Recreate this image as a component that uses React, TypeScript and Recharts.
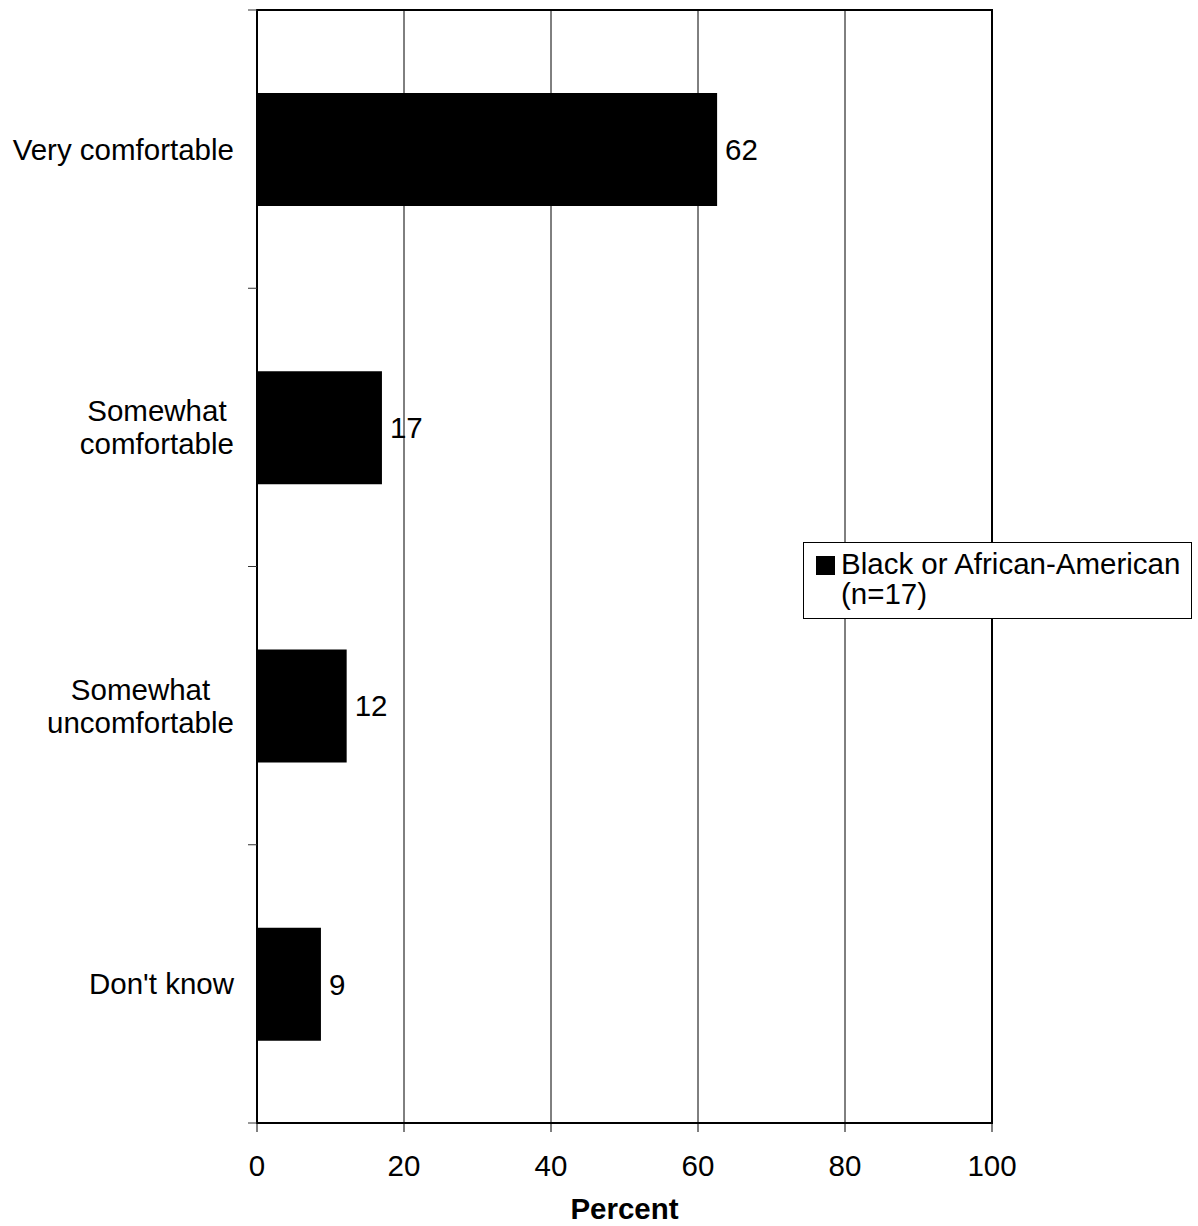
import { BarChart, Bar, XAxis, YAxis, CartesianGrid, Legend, LabelList, ReferenceArea } from 'recharts'

const categories = ['Very comfortable', 'Somewhat\ncomfortable', 'Somewhat\nuncomfortable', "Don't know"]
const percents = [62.6, 17.0, 12.2, 8.7]
const valueLabels = ['62', '17', '12', '9']
const xTicks = [0, 20, 40, 60, 80, 100]
const seriesName = 'Black or African-American'
const seriesNote = '(n=17)'

const FONT = '"Liberation Sans", Arial, sans-serif'
const FONT_SIZE = 29.5

const data = categories.map((name, i) => ({ name, value: percents[i], label: valueLabels[i] }))

// measure text width so two-line labels can be centred on their widest line
let ctx: CanvasRenderingContext2D | null = null
function textWidth(s: string) {
  if (!ctx) ctx = document.createElement('canvas').getContext('2d')
  if (!ctx) return s.length * FONT_SIZE * 0.5
  ctx.font = `${FONT_SIZE}px "Liberation Sans", Arial, sans-serif`
  return ctx.measureText(s).width
}

function CategoryTick(props: any) {
  const { x, y, payload, index, visibleTicksCount } = props
  const half = payload?.offset ?? 139
  const lines = String(payload.value).split('\n')
  const maxW = Math.max(...lines.map(textWidth))
  const cx = x - maxW / 2
  const lh = 33
  return (
    <g>
      <line x1={x + 14} x2={x + 23} y1={y - half} y2={y - half} stroke="#333" strokeWidth={1} />
      {index === visibleTicksCount - 1 && (
        <line x1={x + 14} x2={x + 23} y1={y + half} y2={y + half} stroke="#333" strokeWidth={1} />
      )}
      <text textAnchor="middle" fill="#000" fontSize={FONT_SIZE} fontFamily={FONT}>
        {lines.map((l, i) => (
          <tspan key={i} x={cx} y={y + (i - (lines.length - 1) / 2) * lh} dy="0.355em">
            {l}
          </tspan>
        ))}
      </text>
    </g>
  )
}

function LegendBox() {
  return (
    <div
      style={{
        boxSizing: 'border-box',
        width: 389,
        height: 77,
        border: '1px solid #000',
        background: '#fff',
        fontFamily: FONT,
        fontSize: FONT_SIZE,
        lineHeight: '30px',
        color: '#000',
        display: 'flex',
        alignItems: 'flex-start',
        padding: '6px 0 0 12px',
      }}
    >
      <span style={{ display: 'inline-block', width: 19, height: 19, background: '#000', marginTop: 7, marginRight: 6, flex: 'none' }} />
      <div>
        {seriesName}
        <br />
        {seriesNote}
      </div>
    </div>
  )
}

export default function App() {
  return (
    <div style={{ width: 1198, height: 1226 }}>
      <style>{'body{margin:0;overflow:hidden}'}</style>
      <BarChart
        width={1198}
        height={1226}
        data={data}
        layout="vertical"
        margin={{ top: 10, right: 206, bottom: 0, left: 0 }}
      >
        <CartesianGrid horizontal={false} stroke="#000" strokeWidth={1} />
        <XAxis
          type="number"
          domain={[0, 100]}
          ticks={xTicks}
          height={103}
          tickSize={9}
          tickMargin={23}
          axisLine={false}
          tickLine={{ stroke: '#000', strokeWidth: 1 }}
          tick={{ fill: '#000', fontSize: FONT_SIZE, fontFamily: FONT }}
          label={{ value: 'Percent', position: 'insideBottom', offset: 7, fill: '#000', fontSize: FONT_SIZE, fontWeight: 'bold', fontFamily: FONT }}
        />
        <YAxis
          type="category"
          dataKey="name"
          width={257}
          tickSize={9}
          tickMargin={14}
          axisLine={false}
          tickLine={false}
          tick={<CategoryTick />}
          interval={0}
        />
        <Legend
          layout="horizontal"
          verticalAlign="middle"
          align="center"
          wrapperStyle={{ left: 803, top: 542, width: 389 }}
          content={() => <LegendBox />}
        />
        <Bar dataKey="value" name={seriesName} fill="#000" barSize={113} isAnimationActive={false}>
          <LabelList dataKey="label" position="right" offset={8} fill="#000" fontSize={FONT_SIZE} fontFamily={FONT} />
        </Bar>
        <ReferenceArea x1={0} x2={100} fill="none" stroke="#000" strokeWidth={2} />
      </BarChart>
    </div>
  )
}
